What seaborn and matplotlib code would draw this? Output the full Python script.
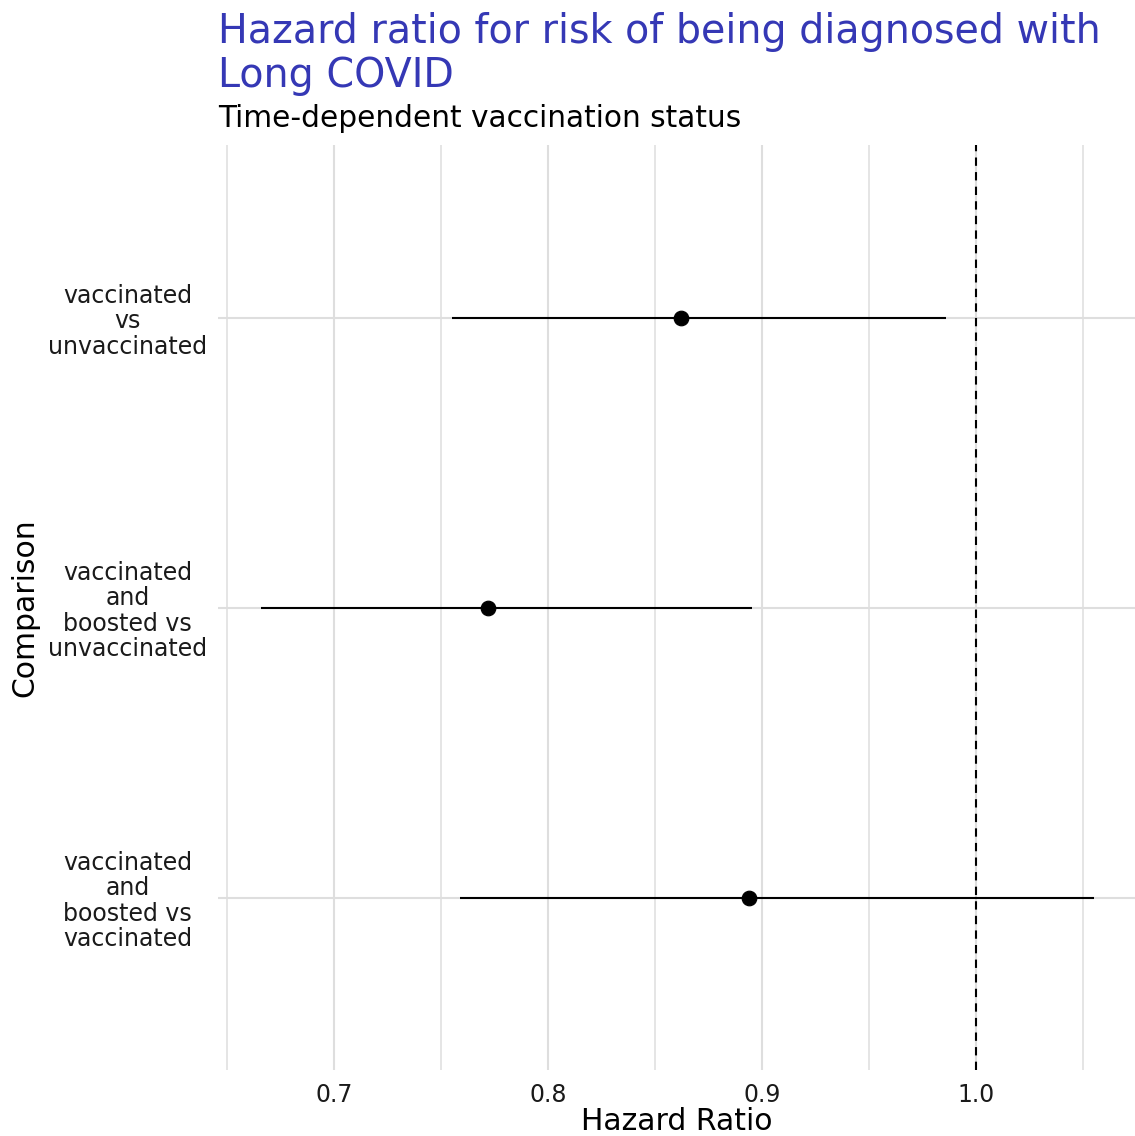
import numpy as np
import pandas as pd
import matplotlib
matplotlib.use("Agg")
import matplotlib.pyplot as plt
import seaborn as sns

# data
comparisons = ["vaccinated\nvs\nunvaccinated",
               "vaccinated\nand\nboosted vs\nunvaccinated",
               "vaccinated\nand\nboosted vs\nvaccinated"]
hr = [0.862, 0.772, 0.894]
ci_low = [0.755, 0.666, 0.759]
ci_high = [0.986, 0.895, 1.055]

df = pd.DataFrame({"Comparison": comparisons, "HR": hr, "lo": ci_low, "hi": ci_high})

sns.set_theme(style="white")
plt.rcParams["font.family"] = ["DejaVu Sans"]

fig = plt.figure(figsize=(11.35, 11.36), dpi=100)
ax = fig.add_axes([0.192, 0.058, 0.808, 0.814])

# grid (ggplot minimal look)
for v in [0.65, 0.75, 0.85, 0.95, 1.05]:
    ax.axvline(v, color="#DEDEDE", lw=1.1, zorder=0)
for v in [0.7, 0.8, 0.9, 1.0]:
    ax.axvline(v, color="#DEDEDE", lw=1.5, zorder=0)

ax.hlines(df["Comparison"], df["lo"], df["hi"], color="black", lw=1.5, zorder=3)
sns.scatterplot(data=df, x="HR", y="Comparison", color="black", s=110,
                edgecolor="black", zorder=4, ax=ax)
for i in range(len(comparisons)):
    ax.axhline(i, color="#DEDEDE", lw=1.5, zorder=0)
ax.axvline(1.0, color="black", lw=1.5, ls=(0, (4, 3)), zorder=2)

ax.set_xlim(0.6458, 1.0741)
ax.set_ylim(2.595, -0.595)
ax.set_xticks([0.7, 0.8, 0.9, 1.0])
ax.set_xticklabels(["0.7", "0.8", "0.9", "1.0"])
ax.tick_params(axis="x", length=0, pad=9, labelsize=17, labelcolor="#1A1A1A")
ax.tick_params(axis="y", length=0, pad=65, labelsize=17, labelcolor="#1A1A1A")
for lab in ax.get_yticklabels():
    lab.set_horizontalalignment("center")
    lab.set_multialignment("center")
    lab.set_linespacing(1.08)

for s in ax.spines.values():
    s.set_visible(False)

ax.set_xlabel("Hazard Ratio", fontsize=21.5, labelpad=0, color="black")
ax.set_ylabel("Comparison", fontsize=21.5, labelpad=6, color="black")

fig.text(0.192, 0.989, "Hazard ratio for risk of being diagnosed with\nLong COVID",
         ha="left", va="top", fontsize=28.5, color="#3538B5", linespacing=1.1)
fig.text(0.192, 0.896, "Time-dependent vaccination status",
         ha="left", va="center", fontsize=21.3, color="black")

fig.savefig("out.png", dpi=100)
